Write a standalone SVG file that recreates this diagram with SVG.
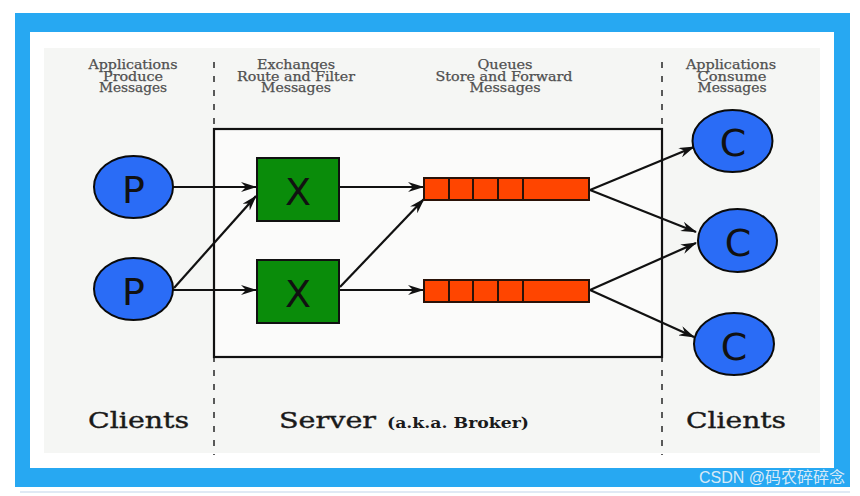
<svg xmlns="http://www.w3.org/2000/svg" width="860" height="496" viewBox="0 0 860 496">
<style>
.hdr{font-family:"DejaVu Serif","Liberation Serif",serif;font-size:12px;fill:#505050;stroke:#505050;stroke-width:0.25;text-anchor:middle}
.big{font-family:"DejaVu Serif","Liberation Serif",serif;font-size:23px;fill:#1a1a1a;stroke:#1a1a1a;stroke-width:0.4}
.small{font-family:"DejaVu Serif","Liberation Serif",serif;font-size:14px;font-weight:bold;fill:#1a1a1a}
.circ{fill:#2a6cf6;stroke:#0a0a0a;stroke-width:2}
.ex{fill:#0a8c0a;stroke:#111;stroke-width:2}
.q{fill:#ff4500;stroke:#2a1208;stroke-width:2}
.lbl{font-family:"DejaVu Sans","Liberation Sans",sans-serif;font-size:38px;fill:#111;text-anchor:middle}
.edge{stroke:#111;stroke-width:2.2;fill:none;marker-end:url(#arr)}
.dash{stroke:#333;stroke-width:1.6;stroke-dasharray:6 8;fill:none}
</style>
<defs>
<marker id="arr" viewBox="0 0 16 10" refX="15" refY="5" markerWidth="16" markerHeight="10" markerUnits="userSpaceOnUse" orient="auto">
<path d="M0,0 L16,5 L0,10 L5,5 z" fill="#111"/>
</marker>
</defs>
<rect x="0" y="0" width="860" height="496" fill="#ffffff"/>
<line x1="20" y1="492" x2="850" y2="492" stroke="#d6e2f0" stroke-width="1.5"/>
<rect x="15" y="13" width="835" height="474" fill="#27a8f2"/>
<rect x="30" y="32" width="804" height="436" fill="#ffffff"/>
<rect x="44" y="48" width="776" height="405" fill="#f5f6f4"/>

<g id="headers">
<text class="hdr" x="133" y="69" textLength="89" lengthAdjust="spacingAndGlyphs">Applications</text>
<text class="hdr" x="133" y="80.5" textLength="60" lengthAdjust="spacingAndGlyphs">Produce</text>
<text class="hdr" x="133" y="92" textLength="68" lengthAdjust="spacingAndGlyphs">Messages</text>
<text class="hdr" x="296" y="69" textLength="78" lengthAdjust="spacingAndGlyphs">Exchanges</text>
<text class="hdr" x="296" y="80.5" textLength="118" lengthAdjust="spacingAndGlyphs">Route and Filter</text>
<text class="hdr" x="296" y="92" textLength="70" lengthAdjust="spacingAndGlyphs">Messages</text>
<text class="hdr" x="505" y="69" textLength="55" lengthAdjust="spacingAndGlyphs">Queues</text>
<text class="hdr" x="504" y="80.5" textLength="137" lengthAdjust="spacingAndGlyphs">Store and Forward</text>
<text class="hdr" x="505" y="92" textLength="71" lengthAdjust="spacingAndGlyphs">Messages</text>
<text class="hdr" x="731" y="69" textLength="90" lengthAdjust="spacingAndGlyphs">Applications</text>
<text class="hdr" x="732" y="80.5" textLength="69" lengthAdjust="spacingAndGlyphs">Consume</text>
<text class="hdr" x="732" y="92" textLength="69" lengthAdjust="spacingAndGlyphs">Messages</text>
</g>

<g id="dividers">
<line class="dash" x1="214" y1="62" x2="214" y2="455"/>
<line class="dash" x1="662" y1="62" x2="662" y2="455"/>
</g>

<g id="server">
<rect x="214" y="129" width="448" height="228" fill="#fbfbfa" stroke="#111" stroke-width="2.2"/>
</g>

<g id="connectors">
<line class="edge" x1="173" y1="187" x2="256" y2="187"/>
<line class="edge" x1="174" y1="288" x2="256" y2="196"/>
<line class="edge" x1="173" y1="290" x2="256" y2="290"/>
<line class="edge" x1="339" y1="187" x2="423" y2="187"/>
<line class="edge" x1="339" y1="290" x2="423" y2="290"/>
<line class="edge" x1="340" y1="287" x2="424" y2="199"/>
<line class="edge" x1="590" y1="190" x2="694" y2="147"/>
<line class="edge" x1="590" y1="190" x2="696" y2="232"/>
<line class="edge" x1="590" y1="290" x2="696" y2="243"/>
<line class="edge" x1="590" y1="290" x2="694" y2="337"/>
</g>

<g id="P1"><ellipse class="circ" cx="133.5" cy="187" rx="39.5" ry="31"/><text class="lbl" x="133.5" y="203">P</text></g>
<g id="P2"><ellipse class="circ" cx="133.5" cy="289" rx="39.5" ry="31"/><text class="lbl" x="133.5" y="305">P</text></g>

<g id="X1"><rect class="ex" x="257" y="158" width="82" height="63"/><text class="lbl" x="298" y="205">X</text></g>
<g id="X2"><rect class="ex" x="257" y="260" width="82" height="63"/><text class="lbl" x="298" y="307">X</text></g>

<g id="Q1">
<rect class="q" x="424" y="178" width="165" height="22"/>
<path d="M449,178 V200 M473,178 V200 M498,178 V200 M523,178 V200" stroke="#2a1208" stroke-width="2"/>
</g>
<g id="Q2">
<rect class="q" x="424" y="280" width="165" height="22"/>
<path d="M449,280 V302 M473,280 V302 M498,280 V302 M523,280 V302" stroke="#2a1208" stroke-width="2"/>
</g>

<g id="C1"><ellipse class="circ" cx="732.5" cy="141" rx="40" ry="31"/><text class="lbl" x="733" y="156">C</text></g>
<g id="C2"><ellipse class="circ" cx="737.5" cy="240.5" rx="39.5" ry="31.5"/><text class="lbl" x="738" y="256">C</text></g>
<g id="C3"><ellipse class="circ" cx="734" cy="344" rx="40" ry="31"/><text class="lbl" x="734" y="360">C</text></g>

<g id="footer">
<text class="big" x="88" y="428" textLength="101" lengthAdjust="spacingAndGlyphs">Clients</text>
<text class="big" x="279" y="428" textLength="97" lengthAdjust="spacingAndGlyphs">Server</text>
<text class="small" x="387" y="428" textLength="142" lengthAdjust="spacingAndGlyphs">(a.k.a. Broker)</text>
<text class="big" x="686" y="428" textLength="100" lengthAdjust="spacingAndGlyphs">Clients</text>
</g>

<text x="845" y="483" text-anchor="end" font-family="'Liberation Sans','Noto Sans CJK SC',sans-serif" font-size="16" fill="#eef3f8" fill-opacity="0.9">CSDN @码农碎碎念</text>
</svg>
